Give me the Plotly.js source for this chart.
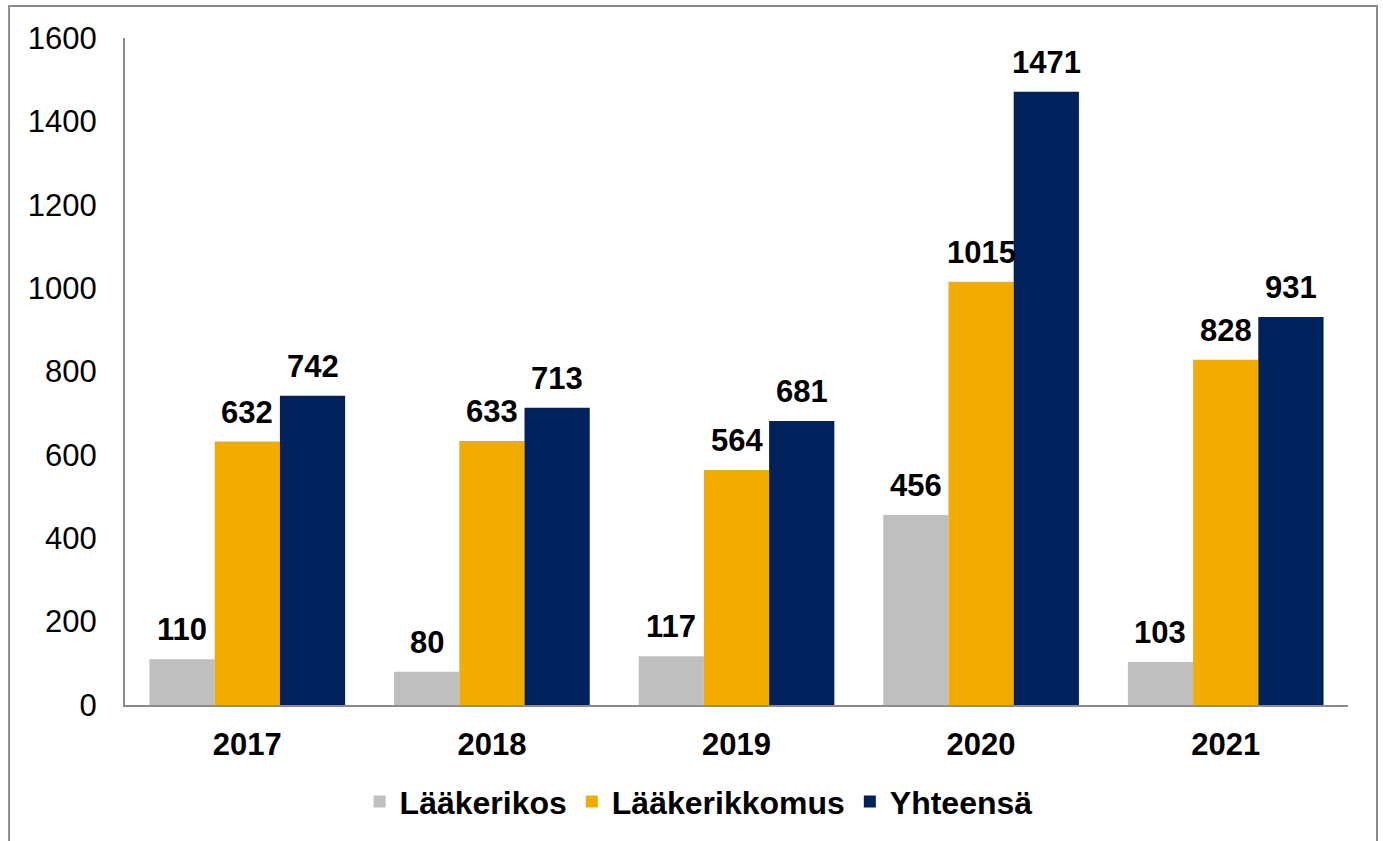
<!DOCTYPE html>
<html>
<head>
<meta charset="utf-8">
<script src="https://cdn.plot.ly/plotly-3.0.1.min.js"></script>
<style>
  html, body { margin: 0; padding: 0; background: #fff; }
  #chart { width: 1383px; height: 841px; }
</style>
</head>
<body>
<div id="chart"></div>
<script>
const years = ['2017', '2018', '2019', '2020', '2021'];
const seriesNames = ['Lääkerikos', 'Lääkerikkomus', 'Yhteensä'];
const laakerikos = [110, 80, 117, 456, 103];
const laakerikkomus = [632, 633, 564, 1015, 828];
const yhteensa = [742, 713, 681, 1471, 931];
const yTicks = [0, 200, 400, 600, 800, 1000, 1200, 1400, 1600];

const seriesValues = [laakerikos, laakerikkomus, yhteensa];
const colors = ['#BEBFBE', '#F2AC00', '#00215B'];
const FONT = 'Liberation Sans, Arial, sans-serif';
const bargap = 0.2;

const traces = seriesValues.map((vals, j) => ({
  type: 'bar',
  name: seriesNames[j],
  x: years,
  y: vals,
  marker: { color: colors[j], line: { width: 0 } },
  hoverinfo: 'x+y+name'
}));

// data labels above each bar, anchored in data coordinates
const annotations = [];
const slot = (1 - bargap) / seriesValues.length;
seriesValues.forEach((vals, j) => {
  vals.forEach((v, i) => {
    annotations.push({
      x: i + (j - (seriesValues.length - 1) / 2) * slot,
      y: v,
      xref: 'x', yref: 'y',
      text: String(v),
      showarrow: false,
      yanchor: 'bottom',
      xanchor: 'center',
      yshift: 10,
      font: { family: FONT, size: 31, color: '#000', weight: 'bold' }
    });
  });
});

const layout = {
  width: 1383,
  height: 841,
  margin: { l: 125, r: 35, t: 38, b: 133 },
  paper_bgcolor: '#fff',
  plot_bgcolor: '#fff',
  barmode: 'group',
  bargap: bargap,
  bargroupgap: 0,
  font: { family: FONT, color: '#000' },
  showlegend: true,
  legend: {
    orientation: 'h',
    x: 0.469, xanchor: 'center',
    y: -0.145, yanchor: 'middle',
    font: { family: FONT, size: 32, color: '#000', weight: 'bold' },
    traceorder: 'normal'
  },
  xaxis: {
    type: 'category',
    showline: true,
    linecolor: '#8C8C8C',
    linewidth: 2,
    showgrid: false,
    zeroline: false,
    ticks: 'outside',
    ticklen: 11,
    tickcolor: 'rgba(0,0,0,0)',
    tickfont: { family: FONT, size: 31, color: '#000', weight: 'bold' }
  },
  yaxis: {
    range: [0, 1600],
    tickvals: yTicks,
    ticktext: yTicks.map(String),
    showline: true,
    linecolor: '#8C8C8C',
    linewidth: 2,
    showgrid: false,
    zeroline: false,
    ticks: 'outside',
    ticklen: 20,
    tickcolor: 'rgba(0,0,0,0)',
    tickfont: { family: FONT, size: 31, color: '#000' }
  },
  annotations: annotations,
  shapes: [{
    type: 'rect',
    xref: 'paper', yref: 'paper',
    x0: -0.0948, x1: 1.0237,
    y0: -0.22, y1: 1.0478,
    line: { color: '#8C8C8C', width: 2 },
    fillcolor: 'rgba(0,0,0,0)',
    layer: 'below'
  }]
};

Plotly.newPlot('chart', traces, layout, { displayModeBar: false, responsive: false });
</script>
</body>
</html>
